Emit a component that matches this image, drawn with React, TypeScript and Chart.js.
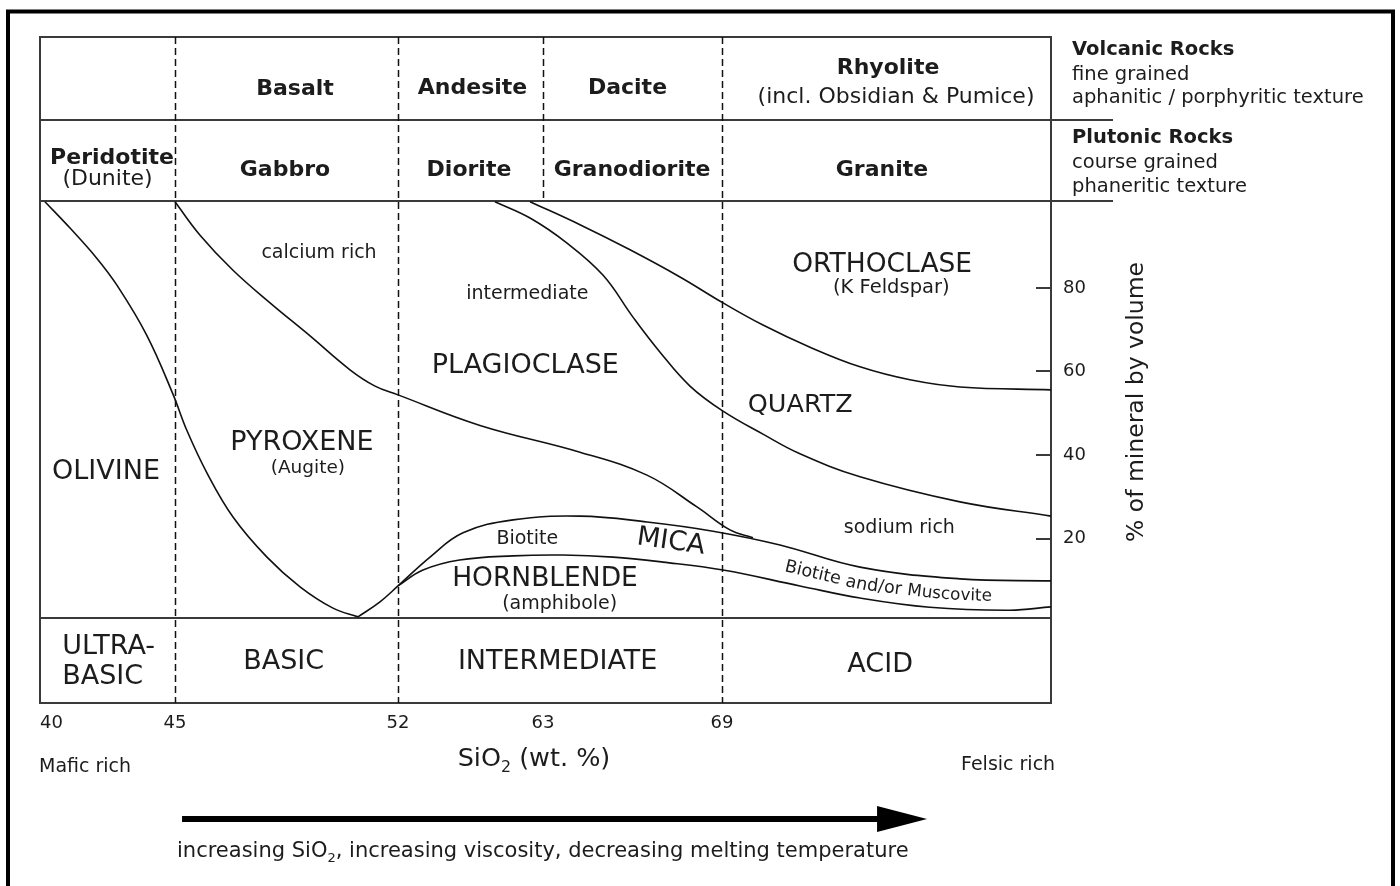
import React, { useEffect, useRef } from 'react';
import { Chart, registerables } from 'chart.js';

Chart.register(...registerables);

const FONT = '"DejaVu Sans", Verdana, sans-serif';
const INK = '#1c1c1c';
const LINE = '#111111';
const BOX = '#3a3a3a';

// x axis: relative position across the (schematic, non-linear) SiO2 diagram, 0..100
const sio2TickLabels = ['40', '45', '52', '63', '69', ''];
const sio2TickPositions = [0, 13.35, 35.41, 49.75, 67.46, 100];
// y axis: % of mineral by volume
const percentTicks = [20, 40, 60, 80];
const Y_MIN = -19.3;
const Y_MAX = 140;

// division lines between rock types
const fullDivisions = [13.35, 35.41, 67.46];
const rockRowDivisions = [49.75];
// row boundaries (volcanic | plutonic | minerals | classification)
const rowBoundaries = [120.14, 100.77, 1.03];

// mineral boundary curves
const olivineCurve = [
  { x: 0.49, y: 100.6 }, { x: 2.97, y: 94.3 }, { x: 5.61, y: 87.1 }, { x: 7.59, y: 80.7 },
  { x: 10.55, y: 68.7 }, { x: 13.18, y: 54.4 }, { x: 14.51, y: 46.0 }, { x: 16.52, y: 35.7 },
  { x: 19.09, y: 25.2 }, { x: 22.45, y: 15.6 }, { x: 25.72, y: 8.5 }, { x: 28.98, y: 3.4 },
  { x: 31.45, y: 1.3 },
];
const micaUpperCurve = [
  { x: 31.45, y: 1.3 }, { x: 33.63, y: 4.9 }, { x: 35.41, y: 8.7 }, { x: 38.58, y: 15.6 },
  { x: 41.84, y: 21.4 }, { x: 46.79, y: 24.5 }, { x: 53.41, y: 25.4 }, { x: 60.04, y: 24.0 },
  { x: 66.57, y: 21.8 }, { x: 73.19, y: 18.5 }, { x: 81.11, y: 13.2 }, { x: 91.0, y: 10.4 },
  { x: 100, y: 9.9 },
];
const plagioclaseCurve = [
  { x: 13.35, y: 100.6 }, { x: 15.83, y: 92.6 }, { x: 19.09, y: 84.2 }, { x: 22.75, y: 76.4 },
  { x: 26.71, y: 68.5 }, { x: 30.66, y: 60.4 }, { x: 33.14, y: 56.5 }, { x: 35.41, y: 54.4 },
  { x: 43.52, y: 47.1 }, { x: 53.41, y: 40.7 }, { x: 60.04, y: 35.2 }, { x: 64.98, y: 27.6 },
  { x: 68.25, y: 22.1 }, { x: 70.52, y: 20.2 },
];
const hornblendeUpperCurve = [
  { x: 35.41, y: 8.7 }, { x: 37.88, y: 12.5 }, { x: 41.5, y: 14.9 }, { x: 46.79, y: 15.9 },
  { x: 51.73, y: 16.1 }, { x: 56.68, y: 15.6 }, { x: 61.62, y: 14.4 }, { x: 67.56, y: 12.5 },
  { x: 75.17, y: 8.7 }, { x: 81.11, y: 5.8 }, { x: 88.0, y: 3.6 }, { x: 95.94, y: 2.9 },
  { x: 100, y: 3.7 },
];
const quartzCurve = [
  { x: 45.0, y: 100.6 }, { x: 48.47, y: 96.7 }, { x: 52.13, y: 90.7 }, { x: 55.7, y: 83.0 },
  { x: 58.65, y: 73.0 }, { x: 61.33, y: 64.6 }, { x: 64.29, y: 56.5 }, { x: 67.56, y: 50.5 },
  { x: 71.51, y: 45.0 }, { x: 75.17, y: 40.3 }, { x: 81.11, y: 34.8 }, { x: 91.0, y: 28.8 },
  { x: 100, y: 25.4 },
];
const orthoclaseCurve = [
  { x: 48.47, y: 100.6 }, { x: 53.41, y: 95.1 }, { x: 58.36, y: 89.1 }, { x: 63.3, y: 82.6 },
  { x: 67.56, y: 76.4 }, { x: 71.51, y: 71.1 }, { x: 76.16, y: 65.8 }, { x: 81.11, y: 61.1 },
  { x: 86.05, y: 58.0 }, { x: 91.0, y: 56.3 }, { x: 100, y: 55.6 },
];

type Label = { text: string; x: number; y: number; size: number; bold?: boolean; align?: CanvasTextAlign; rot?: number };

const rockLabels: Label[] = [
  { text: 'Basalt', x: 25.22, y: 127.6, size: 22, bold: true },
  { text: 'Andesite', x: 42.78, y: 127.8, size: 22, bold: true },
  { text: 'Dacite', x: 58.11, y: 127.8, size: 22, bold: true },
  { text: 'Rhyolite', x: 83.88, y: 132.5, size: 22, bold: true },
  { text: '(incl. Obsidian & Pumice)', x: 84.67, y: 125.7, size: 22 },
  { text: 'Peridotite', x: 7.12, y: 110.9, size: 22, bold: true },
  { text: '(Dunite)', x: 6.68, y: 105.9, size: 22 },
  { text: 'Gabbro', x: 24.23, y: 108.2, size: 22, bold: true },
  { text: 'Diorite', x: 42.43, y: 108.2, size: 22, bold: true },
  { text: 'Granodiorite', x: 58.56, y: 108.2, size: 22, bold: true },
  { text: 'Granite', x: 83.28, y: 108.2, size: 22, bold: true },
  { text: 'Volcanic Rocks', x: 102.08, y: 136.9, size: 19.5, bold: true, align: 'left' },
  { text: 'fine grained', x: 102.08, y: 130.9, size: 19.5, align: 'left' },
  { text: 'aphanitic / porphyritic texture', x: 102.08, y: 125.4, size: 19.5, align: 'left' },
  { text: 'Plutonic Rocks', x: 102.08, y: 115.9, size: 19.5, bold: true, align: 'left' },
  { text: 'course grained', x: 102.08, y: 109.9, size: 19.5, align: 'left' },
  { text: 'phaneritic texture', x: 102.08, y: 104.2, size: 19.5, align: 'left' },
];

const mineralLabels: Label[] = [
  { text: 'calcium rich', x: 27.6, y: 88.3, size: 19 },
  { text: 'OLIVINE', x: 6.53, y: 35.9, size: 27 },
  { text: 'PYROXENE', x: 25.9, y: 42.9, size: 27 },
  { text: '(Augite)', x: 26.5, y: 36.9, size: 18.5 },
  { text: 'intermediate', x: 48.2, y: 78.5, size: 19 },
  { text: 'PLAGIOCLASE', x: 48.0, y: 61.3, size: 27 },
  { text: 'Biotite', x: 48.2, y: 19.9, size: 19 },
  { text: 'MICA', x: 62.4, y: 19.2, size: 27, rot: 8 },
  { text: 'HORNBLENDE', x: 49.95, y: 10.4, size: 26.5 },
  { text: '(amphibole)', x: 51.4, y: 4.4, size: 19 },
  { text: 'ORTHOCLASE', x: 83.3, y: 85.4, size: 26.5 },
  { text: '(K Feldspar)', x: 84.2, y: 80.0, size: 19.5 },
  { text: 'QUARTZ', x: 75.2, y: 52.0, size: 25.5 },
  { text: 'sodium rich', x: 85.0, y: 22.5, size: 19 },
];

const classLabels: Label[] = [
  { text: 'ULTRA-', x: 2.2, y: -5.8, size: 27, align: 'left' },
  { text: 'BASIC', x: 2.2, y: -13.0, size: 27, align: 'left' },
  { text: 'BASIC', x: 24.1, y: -9.5, size: 27 },
  { text: 'INTERMEDIATE', x: 51.2, y: -9.5, size: 27 },
  { text: 'ACID', x: 83.1, y: -10.2, size: 27 },
  { text: 'Mafic rich', x: -0.1, y: -34.6, size: 19, align: 'left' },
  { text: 'Felsic rich', x: 91.1, y: -34.1, size: 19, align: 'left' },
];

const curvedLabel = [
  { text: 'Biotite and/or ', size: 17.5 },
  { text: 'Muscovite', size: 16.8 },
];
const curvedLabelStart = 73.7;

function interp(pts: { x: number; y: number }[], xv: number) {
  if (xv <= pts[0].x) return pts[0].y;
  for (let i = 1; i < pts.length; i++) {
    if (xv <= pts[i].x) {
      const a = pts[i - 1], b = pts[i];
      return a.y + ((b.y - a.y) * (xv - a.x)) / (b.x - a.x);
    }
  }
  return pts[pts.length - 1].y;
}

function drawLabel(ctx: CanvasRenderingContext2D, l: Label, xs: any, ys: any) {
  const px = xs.getPixelForValue(l.x);
  const py = ys.getPixelForValue(l.y);
  ctx.save();
  ctx.font = `${l.bold ? 'bold ' : ''}${l.size}px ${FONT}`;
  ctx.fillStyle = INK;
  ctx.textAlign = l.align || 'center';
  ctx.textBaseline = 'middle';
  ctx.translate(px, py);
  if (l.rot) ctx.rotate((l.rot * Math.PI) / 180);
  ctx.fillText(l.text, 0, 0);
  ctx.restore();
}

function drawRich(ctx: CanvasRenderingContext2D, parts: { t: string; sub?: boolean }[], px: number, py: number, size: number, align: 'left' | 'center', rot = 0) {
  ctx.save();
  ctx.fillStyle = INK;
  ctx.textAlign = 'left';
  ctx.textBaseline = 'middle';
  const widths = parts.map((p) => {
    ctx.font = `${p.sub ? size * 0.62 : size}px ${FONT}`;
    return ctx.measureText(p.t).width;
  });
  const total = widths.reduce((a, b) => a + b, 0);
  ctx.translate(px, py);
  if (rot) ctx.rotate(rot);
  let cx = align === 'center' ? -total / 2 : 0;
  parts.forEach((p, i) => {
    ctx.font = `${p.sub ? size * 0.62 : size}px ${FONT}`;
    ctx.fillText(p.t, cx, p.sub ? size * 0.32 : 0);
    cx += widths[i];
  });
  ctx.restore();
}

const diagramPlugin = {
  id: 'diagram',
  beforeDraw(chart: any) {
    const { ctx } = chart;
    ctx.save();
    ctx.fillStyle = '#ffffff';
    ctx.fillRect(0, 0, chart.width, chart.height);
    ctx.restore();
  },
  beforeDatasetsDraw(chart: any) {
    const { ctx, chartArea: a, scales } = chart;
    const xs = scales.x, ys = scales.y;
    ctx.save();
    // outer frame
    ctx.strokeStyle = '#000';
    ctx.lineWidth = 4;
    ctx.beginPath();
    ctx.moveTo(8, 890);
    ctx.lineTo(8, 11.5);
    ctx.lineTo(1393, 11.5);
    ctx.lineTo(1393, 890);
    ctx.stroke();
    // box
    ctx.strokeStyle = BOX;
    ctx.lineWidth = 2;
    ctx.strokeRect(a.left, a.top, a.right - a.left, a.bottom - a.top);
    rowBoundaries.forEach((v, i) => {
      const py = Math.round(ys.getPixelForValue(v));
      ctx.beginPath();
      ctx.moveTo(a.left, py);
      ctx.lineTo(i < 2 ? a.right + 62 : a.right, py);
      ctx.stroke();
    });
    // dashed divisions
    ctx.strokeStyle = LINE;
    ctx.lineWidth = 1.5;
    ctx.setLineDash([7, 4]);
    fullDivisions.forEach((v) => {
      const px = Math.round(xs.getPixelForValue(v)) + 0.5;
      ctx.beginPath();
      ctx.moveTo(px, a.top);
      ctx.lineTo(px, a.bottom);
      ctx.stroke();
    });
    rockRowDivisions.forEach((v) => {
      const px = Math.round(xs.getPixelForValue(v)) + 0.5;
      ctx.beginPath();
      ctx.moveTo(px, a.top);
      ctx.lineTo(px, ys.getPixelForValue(rowBoundaries[1]));
      ctx.stroke();
    });
    ctx.setLineDash([]);
    ctx.restore();
  },
  afterDatasetsDraw(chart: any) {
    const { ctx, chartArea: a, scales } = chart;
    const xs = scales.x, ys = scales.y;
    ctx.save();
    // inward ticks on the % axis
    ctx.strokeStyle = BOX;
    ctx.lineWidth = 2;
    percentTicks.forEach((v) => {
      const py = Math.round(ys.getPixelForValue(v));
      ctx.beginPath();
      ctx.moveTo(a.right - 15, py);
      ctx.lineTo(a.right, py);
      ctx.stroke();
    });
    [...rockLabels, ...mineralLabels, ...classLabels].forEach((l) => drawLabel(ctx, l, xs, ys));

    // text along the mica / hornblende band
    const pyAt = (px: number) => {
      const xv = xs.getValueForPixel(px);
      const v = (interp(micaUpperCurve, xv) + interp(hornblendeUpperCurve, xv)) / 2;
      return ys.getPixelForValue(v) + 2;
    };
    ctx.fillStyle = INK;
    ctx.textAlign = 'center';
    ctx.textBaseline = 'middle';
    let cx = xs.getPixelForValue(curvedLabelStart);
    curvedLabel.forEach((seg) => {
      ctx.font = `${seg.size}px ${FONT}`;
      for (const ch of seg.text) {
        const w = ctx.measureText(ch).width;
        const ang = Math.atan2(pyAt(cx + 6) - pyAt(cx - 6), 12);
        const mx = cx + (Math.cos(ang) * w) / 2;
        ctx.save();
        ctx.translate(mx, pyAt(mx));
        ctx.rotate(ang);
        ctx.fillText(ch, 0, 0);
        ctx.restore();
        cx += Math.cos(ang) * w;
      }
    });

    // axis titles
    drawRich(ctx, [{ t: 'SiO' }, { t: '2', sub: true }, { t: ' (wt. %)' }], xs.getPixelForValue(48.86), ys.getPixelForValue(-32.9), 25.5, 'center');
    drawRich(ctx, [{ t: '% of mineral by volume' }], xs.getPixelForValue(108.5), ys.getPixelForValue(52.7), 23.5, 'center', -Math.PI / 2);

    // arrow
    const ay = Math.round(ys.getPixelForValue(-47.0));
    const ax0 = xs.getPixelForValue(14.05);
    const ax1 = xs.getPixelForValue(87.74);
    ctx.fillStyle = '#000';
    ctx.fillRect(ax0, ay - 3, ax1 - 50 - ax0 + 2, 6);
    ctx.beginPath();
    ctx.moveTo(ax1, ay);
    ctx.lineTo(ax1 - 50, ay - 13);
    ctx.lineTo(ax1 - 50, ay + 13);
    ctx.closePath();
    ctx.fill();
    drawRich(
      ctx,
      [{ t: 'increasing SiO' }, { t: '2', sub: true }, { t: ', increasing viscosity, decreasing melting temperature' }],
      xs.getPixelForValue(13.55),
      ys.getPixelForValue(-54.9),
      21,
      'left'
    );
    ctx.restore();
  },
};

const lineStyle = {
  showLine: true,
  borderColor: LINE,
  borderWidth: 1.6,
  pointRadius: 0,
  tension: 0.4,
  fill: false,
};

export default function App() {
  const ref = useRef<HTMLCanvasElement>(null);
  useEffect(() => {
    if (!ref.current) return;
    const chart = new Chart(ref.current, {
      type: 'scatter',
      data: {
        datasets: [
          { label: 'Olivine', data: olivineCurve, ...lineStyle },
          { label: 'Mica', data: micaUpperCurve, ...lineStyle },
          { label: 'Plagioclase', data: plagioclaseCurve, ...lineStyle },
          { label: 'Hornblende', data: hornblendeUpperCurve, ...lineStyle },
          { label: 'Quartz', data: quartzCurve, ...lineStyle },
          { label: 'Orthoclase', data: orthoclaseCurve, ...lineStyle },
        ],
      },
      options: {
        animation: false,
        responsive: false,
        devicePixelRatio: 1,
        events: [],
        layout: { padding: { left: 40, top: 37, right: 289, bottom: 123 } },
        plugins: { legend: { display: false }, tooltip: { enabled: false } },
        scales: {
          x: {
            type: 'linear',
            position: 'bottom',
            min: 0,
            max: 100,
            grid: { display: false },
            border: { display: false },
            afterBuildTicks: (s: any) => {
              s.ticks = sio2TickPositions.map((v) => ({ value: v }));
            },
            afterFit: (s: any) => {
              s.height = 60;
            },
            ticks: {
              autoSkip: false,
              maxRotation: 0,
              align: 'inner',
              padding: 2,
              color: INK,
              font: { family: FONT, size: 18 },
              callback: (_v: any, i: number) => sio2TickLabels[i],
            },
          },
          y: {
            type: 'linear',
            position: 'right',
            min: Y_MIN,
            max: Y_MAX,
            grid: { display: false, drawTicks: false },
            border: { display: false },
            afterBuildTicks: (s: any) => {
              s.ticks = percentTicks.map((v) => ({ value: v }));
            },
            afterFit: (s: any) => {
              s.width = 60;
            },
            ticks: {
              padding: 12,
              color: INK,
              font: { family: FONT, size: 18 },
            },
          },
        },
      },
      plugins: [diagramPlugin],
    });
    return () => chart.destroy();
  }, []);
  return (
    <div style={{ position: 'fixed', left: 0, top: 0, width: 1400, height: 886, background: '#fff' }}>
      <canvas ref={ref} width={1400} height={886} style={{ display: 'block' }} />
    </div>
  );
}
